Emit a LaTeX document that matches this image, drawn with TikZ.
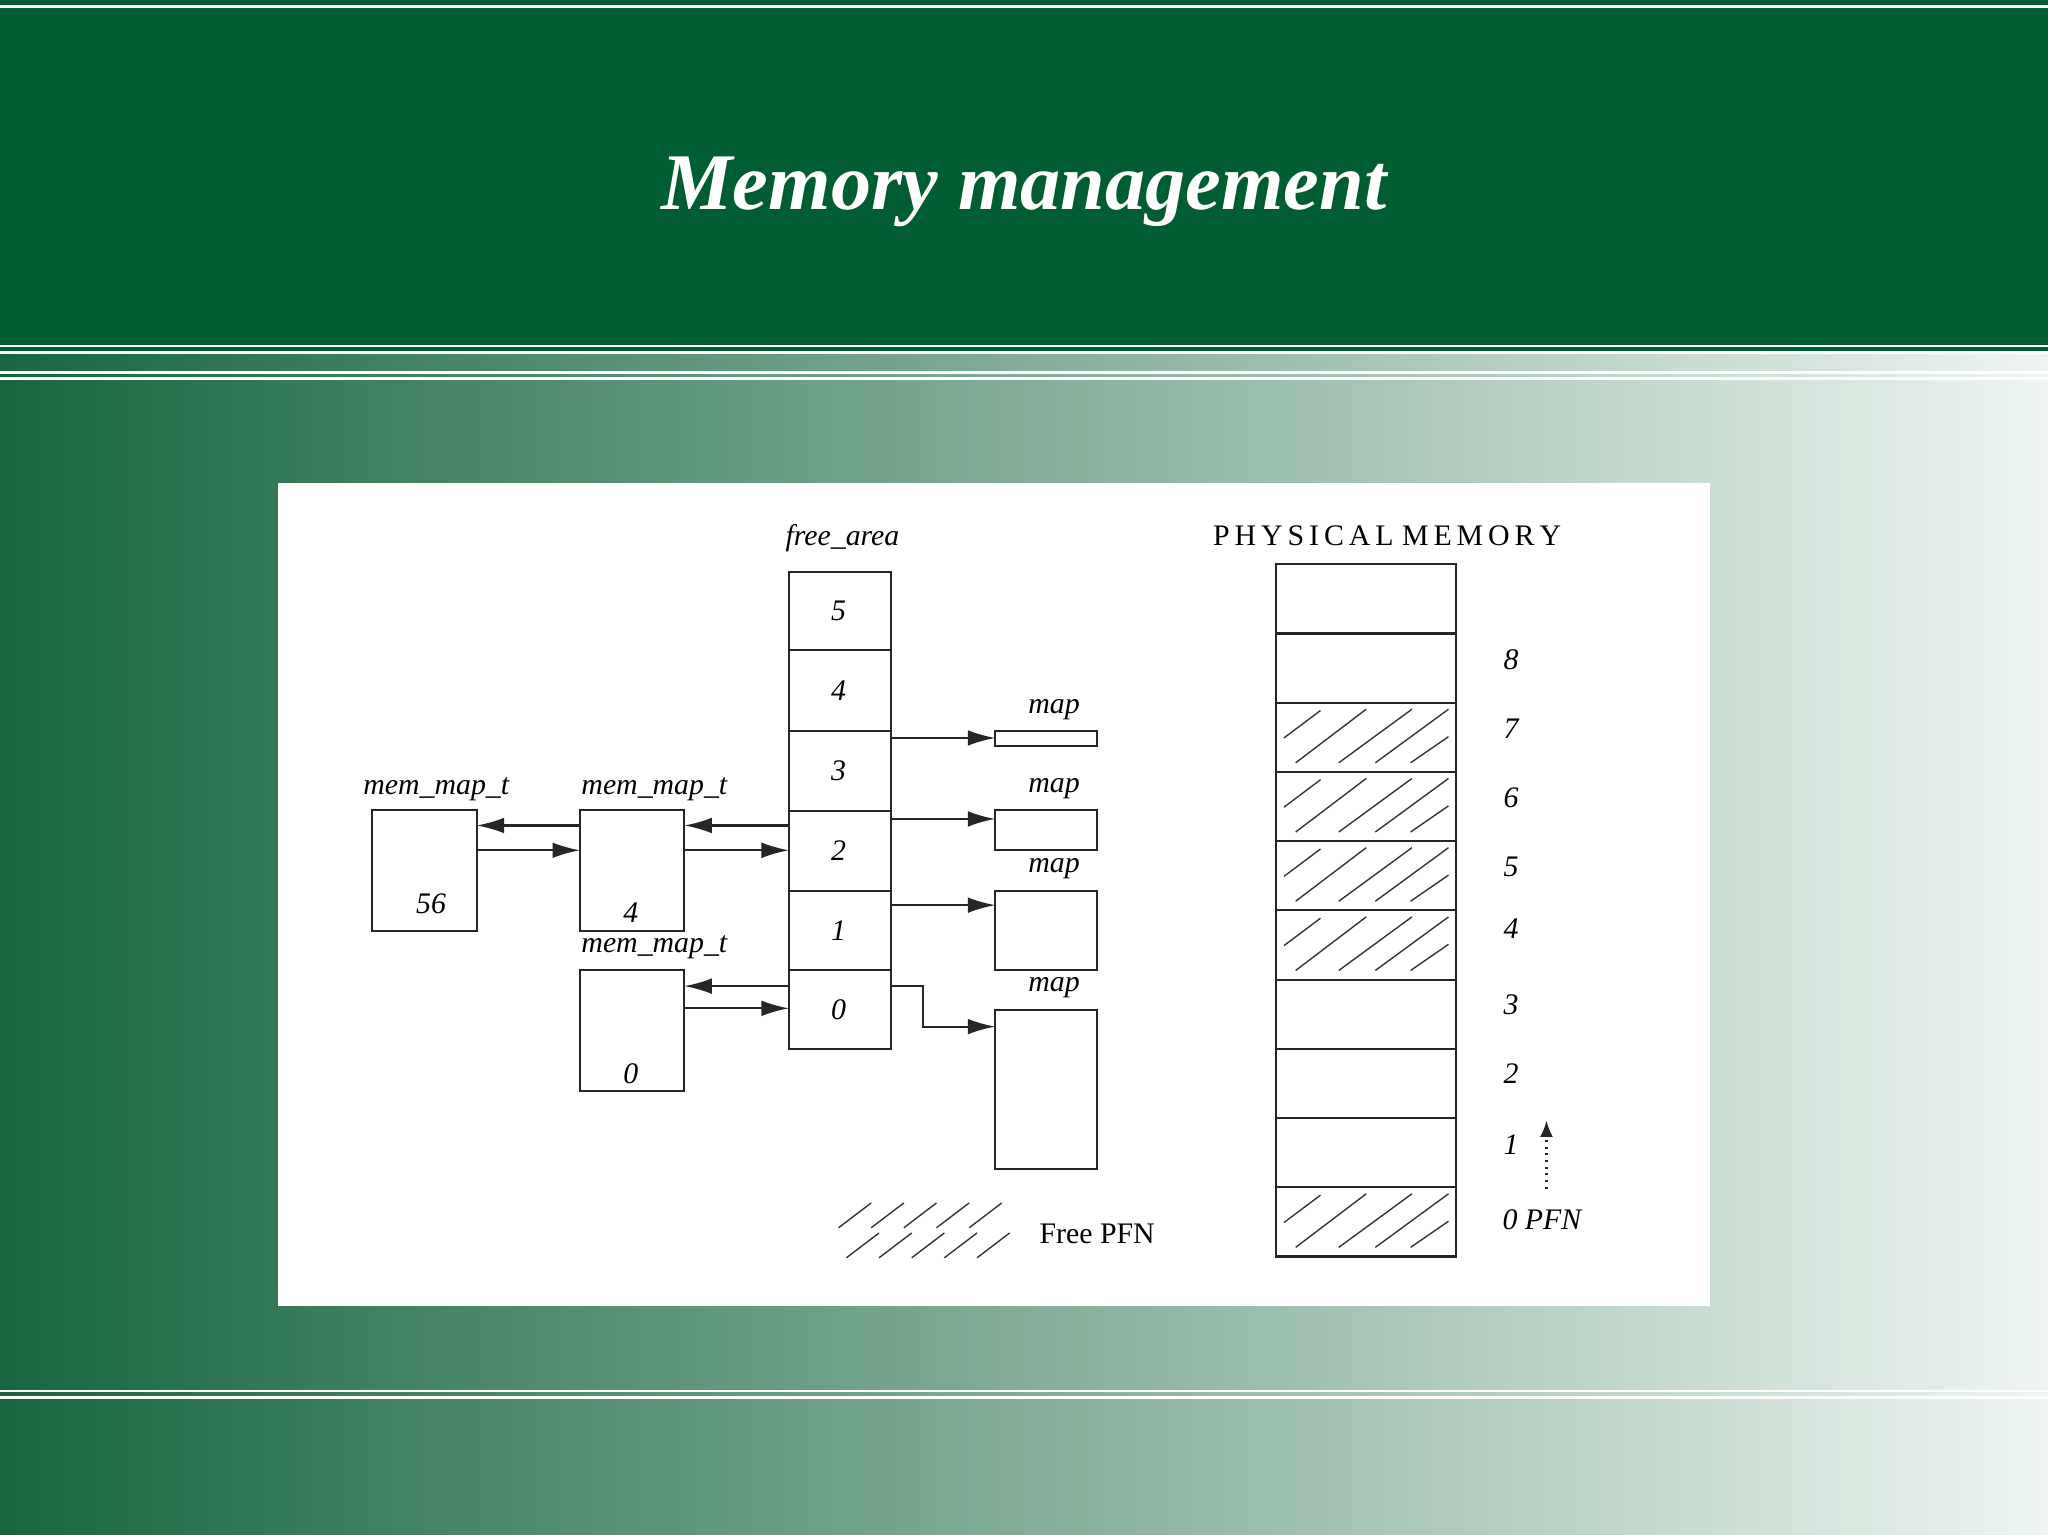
\documentclass[tikz,border=0pt]{standalone}
\usepackage{fontspec}
\setmainfont{Liberation Serif}
\usetikzlibrary{arrows.meta}
\definecolor{topgreen}{HTML}{005C31}
\definecolor{gl}{HTML}{17663F}
\definecolor{gm}{HTML}{5E9C7F}
\definecolor{gr}{HTML}{EEF5F1}
\begin{document}
\begin{tikzpicture}[x=0.02cm,y=-0.02cm,
  ln/.style={line width=0.9pt,black!85},
  cell/.style={ln,draw,fill=white},
  arr/.style={ln,-{Latex[length=0.42cm,width=0.24cm]}},
  lbl/.style={font=\fontsize{13}{15}\selectfont\itshape,inner sep=0pt},
  num/.style={font=\fontsize{13}{15}\selectfont\itshape,inner sep=0pt},
  hatch/.style={line width=0.6pt,black!80}]
\useasboundingbox (0,0) rectangle (1568,1175);
\shade[left color=gl,middle color=gm,right color=gr] (0,0) rectangle (1568,1175);
\fill[topgreen] (0,0) rectangle (1568,270);
\foreach \yy in {5,265,270,285,290,1065,1070}
  \draw[white,line width=1.2pt] (0,\yy) -- (1568,\yy);
\node[text=white,font=\fontsize{35}{40}\selectfont\bfseries\itshape] (title) at (784,147) {Memory management};
\fill[white] (213,370) rectangle (1309,1000);
% free_area
\node[lbl] (fa) at (645,412) {free\_area};
\foreach \n/\t/\b in {5/438/498,4/498/560,3/560/621,2/621/682,1/682/743,0/743/803}{
  \draw[cell] (604,\t) rectangle (682,\b);
  \node[num] (f\n) at (642,{(\t+\b)/2}) {\n};
}
% mem_map_t boxes
\draw[cell] (285,620) rectangle (365,713); \node[num] (m56) at (330,692) {56};
\draw[cell] (444,620) rectangle (524,713); \node[num] (m4) at (483,699) {4};
\draw[cell] (444,743) rectangle (524,835); \node[num] (m0) at (483,822) {0};
\node[lbl] (l1) at (334,604) {mem\_map\_t};
\node[lbl] (l2) at (501,604) {mem\_map\_t};
\node[lbl] (l3) at (501,725) {mem\_map\_t};
\coordinate (a1) at (444,632); \coordinate (b1) at (365,632);
\coordinate (a2) at (365,651); \coordinate (b2) at (444,651);
\coordinate (a3) at (604,632); \coordinate (b3) at (524,632);
\coordinate (a4) at (524,651); \coordinate (b4) at (604,651);
\coordinate (a5) at (604,755); \coordinate (b5) at (524,755);
\coordinate (a6) at (524,772); \coordinate (b6) at (604,772);
\foreach \i in {1,...,6} \draw[arr] (a\i) -- (b\i);
% map boxes
\draw[cell] (762,560) rectangle (840,571);
\draw[cell] (762,620) rectangle (840,651);
\draw[cell] (762,682) rectangle (840,743);
\draw[cell] (762,773) rectangle (840,895);
\foreach \yy in {543,604,665,756} \node[lbl] at (807,\yy) {map};
\coordinate (p3) at (682,565); \coordinate (q3) at (762,565);
\coordinate (p2) at (682,627); \coordinate (q2) at (762,627);
\coordinate (p1) at (682,693); \coordinate (q1) at (762,693);
\foreach \i in {1,2,3} \draw[arr] (p\i) -- (q\i);
\coordinate (p0) at (682,755); \coordinate (q0) at (762,786);
\draw[arr] (p0) -- (707,755) -- (707,786) -- (q0);
% physical memory
\node[font=\fontsize{13}{15}\selectfont,inner sep=0pt] (pm) at (1062,410) {P\,H\,Y\,S\,I\,C\,A\,L\;M\,E\,M\,O\,R\,Y};
\foreach \t in {432,485,538,591,644,697,750,803,856,909}
  \draw[cell] (977,\t) rectangle (1115,\t+53);
\foreach \t in {538,591,644,697,909}{
  \draw[hatch] (983,\t+27) -- (1011,\t+6);
  \draw[hatch] (992,\t+46) -- (1046,\t+5);
  \draw[hatch] (1025,\t+46) -- (1081,\t+5);
  \draw[hatch] (1053,\t+46) -- (1109,\t+5);
  \draw[hatch] (1080,\t+46) -- (1109,\t+26);
}
\foreach \n/\yy in {8/505,7/558,6/611,5/664,4/711,3/769,2/822,1/876}
  \node[num] at (1157,\yy) {\n};
\node[num,anchor=west] (pfn) at (1150,934) {0 PFN};
\coordinate (pa) at (1184,910); \coordinate (pb) at (1184,858);
\draw[ln,dotted,-{Latex[length=0.25cm,width=0.2cm]}] (pa) -- (pb);
% legend
\foreach \i in {0,...,4} {
  \draw[hatch] (642+25*\i,940) -- (667+25*\i,921);
  \draw[hatch] (648+25*\i,963) -- (673+25*\i,944);
}
\node[font=\fontsize{13}{15}\selectfont,inner sep=0pt] (leg) at (840,945) {Free PFN};
\end{tikzpicture}
\end{document}
